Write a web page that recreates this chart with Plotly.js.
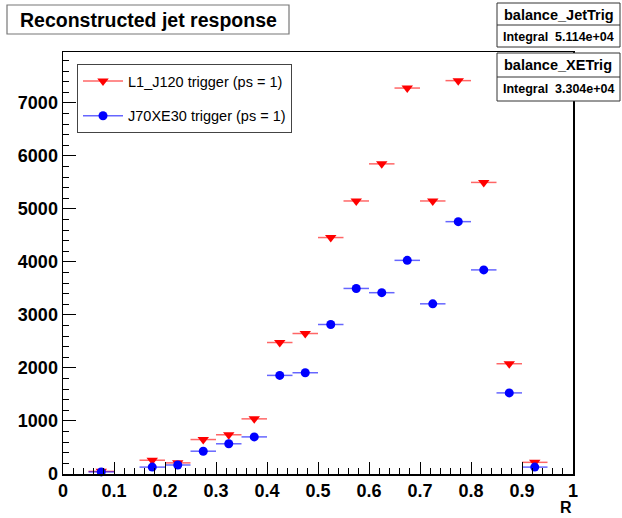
<!DOCTYPE html>
<html>
<head>
<meta charset="utf-8">
<script src="https://cdn.plot.ly/plotly-3.0.1.min.js"></script>
<style>html,body{margin:0;padding:0;background:#fff;} #chart{width:622px;height:518px;}</style>
</head>
<body>
<div id="chart"></div>
<script>
// Bin centres of R (bin width 0.05)
const binCenters = [0.075, 0.175, 0.225, 0.275, 0.325, 0.375, 0.425, 0.475, 0.525, 0.575, 0.625, 0.675, 0.725, 0.775, 0.825, 0.875, 0.925];
const binHalfWidth = 0.025;
// balance_JetTrig : L1_J120 trigger (ps = 1)
const jetTrig = [50, 260, 210, 650, 740, 1040, 2480, 2650, 4460, 5150, 5850, 7280, 5150, 7420, 5500, 2080, 220];
// balance_XETrig : J70XE30 trigger (ps = 1)
const xeTrig = [40, 130, 170, 430, 570, 700, 1860, 1910, 2820, 3500, 3420, 4030, 3210, 4760, 3850, 1530, 130];
const seriesNames = ["L1_J120 trigger (ps = 1)", "J70XE30 trigger (ps = 1)"];
const histNames = ["balance_JetTrig", "balance_XETrig"];
const integrals = ["5.114e+04", "3.304e+04"];
const xTickVals = [0, 0.1, 0.2, 0.3, 0.4, 0.5, 0.6, 0.7, 0.8, 0.9, 1];
const xTickText = ["0", "0.1", "0.2", "0.3", "0.4", "0.5", "0.6", "0.7", "0.8", "0.9", "1"];
const yTickVals = [0, 1000, 2000, 3000, 4000, 5000, 6000, 7000];

const FONT = "Liberation Sans, Arial, Helvetica, sans-serif";
const redLine = "rgba(255,0,0,0.6)";
const blueLine = "rgba(0,0,255,0.6)";

const traces = [
  {
    x: binCenters, y: jetTrig, type: "scatter", mode: "markers", showlegend: false,
    marker: {symbol: "triangle-down", size: 10, color: "#ff0000"},
    error_x: {type: "constant", value: binHalfWidth, width: 0, thickness: 1.5, color: redLine},
    cliponaxis: false
  },
  {
    x: binCenters, y: xeTrig, type: "scatter", mode: "markers", showlegend: false,
    marker: {symbol: "circle", size: 9, color: "#0000ff"},
    error_x: {type: "constant", value: binHalfWidth, width: 0, thickness: 1.5, color: blueLine},
    cliponaxis: false
  },
  {
    x: [null], y: [null], type: "scatter", mode: "lines+markers", name: seriesNames[0], legendgroup: "a",
    line: {color: redLine, width: 1.5}, marker: {symbol: "triangle-down", size: 10, color: "#ff0000"}
  },
  {
    x: [null], y: [null], type: "scatter", mode: "lines+markers", name: seriesNames[1], legendgroup: "b",
    line: {color: blueLine, width: 1.5}, marker: {symbol: "circle", size: 9, color: "#0000ff"}
  }
];

const L = 63, R = 573, T = 52, B = 474;
const px = v => (v - L) / (R - L);
const py = v => (B - v) / (B - T);

const shapes = [
  {type: "rect", xref: "paper", yref: "paper", x0: px(7), x1: px(289), y0: py(34), y1: py(5), line: {color: "#777", width: 1.2}, fillcolor: "#fff"},
  {type: "rect", xref: "paper", yref: "paper", x0: px(497), x1: px(620), y0: py(47), y1: py(3), line: {color: "#333", width: 1}, fillcolor: "#fff"},
  {type: "line", xref: "paper", yref: "paper", x0: px(497), x1: px(620), y0: py(25), y1: py(25), line: {color: "#333", width: 1}},
  {type: "rect", xref: "paper", yref: "paper", x0: px(497), x1: px(620), y0: py(101), y1: py(53), line: {color: "#333", width: 1}, fillcolor: "#fff"},
  {type: "line", xref: "paper", yref: "paper", x0: px(497), x1: px(620), y0: py(77), y1: py(77), line: {color: "#333", width: 1}}
];

const ann = (text, x, y, size, xanchor, weight) => ({
  text: text, xref: "paper", yref: "paper", x: x, y: y, xanchor: xanchor, yanchor: "middle",
  showarrow: false, font: {family: FONT, size: size, color: "#000", weight: weight}
});

const annotations = [
  ann("Reconstructed jet response", px(148), py(19.5), 19.5, "center", "bold"),
  ann(histNames[0], px(502), py(14.5), 14.5, "left", "bold"),
  ann("Integral", px(501), py(36.5), 12.5, "left", "bold"),
  ann(integrals[0], px(616), py(36.5), 12.5, "right", "bold"),
  ann(histNames[1], px(502), py(65), 14.5, "left", "bold"),
  ann("Integral", px(501), py(89), 12.5, "left", "bold"),
  ann(integrals[1], px(616), py(89), 12.5, "right", "bold"),
  ann("R", px(566), py(507), 16, "center", "bold")
];

const layout = {
  width: 622, height: 518,
  margin: {l: L, r: 622 - R, t: T, b: 518 - B, pad: 0},
  paper_bgcolor: "#fff", plot_bgcolor: "#fff",
  font: {family: FONT, color: "#000"},
  showlegend: true,
  legend: {
    x: px(77), y: py(64), xanchor: "left", yanchor: "top",
    bordercolor: "#444", borderwidth: 1, bgcolor: "#fff",
    font: {family: FONT, size: 14.5, color: "#000"},
    tracegroupgap: 13, itemwidth: 40
  },
  xaxis: {
    range: [0, 1], tickvals: xTickVals, ticktext: xTickText,
    ticks: "inside", ticklen: 12, tickwidth: 1, tickcolor: "#000",
    minor: {dtick: 0.02, ticks: "inside", ticklen: 6, tickcolor: "#000", tickwidth: 1},
    showline: true, linecolor: "#000", linewidth: 1.5, mirror: true,
    showgrid: false, zeroline: false,
    tickfont: {family: FONT, size: 18, color: "#000", weight: "bold"}
  },
  yaxis: {
    range: [0, 7960], tickvals: yTickVals,
    ticks: "inside", ticklen: 13, tickwidth: 1, tickcolor: "#000",
    minor: {dtick: 200, ticks: "inside", ticklen: 6, tickcolor: "#000", tickwidth: 1},
    showline: true, linecolor: "#000", linewidth: 1.5, mirror: true,
    showgrid: false, zeroline: false,
    tickfont: {family: FONT, size: 18, color: "#000", weight: "bold"}
  },
  shapes: shapes,
  annotations: annotations
};

Plotly.newPlot("chart", traces, layout, {displayModeBar: false, staticPlot: true});
</script>
</body>
</html>
